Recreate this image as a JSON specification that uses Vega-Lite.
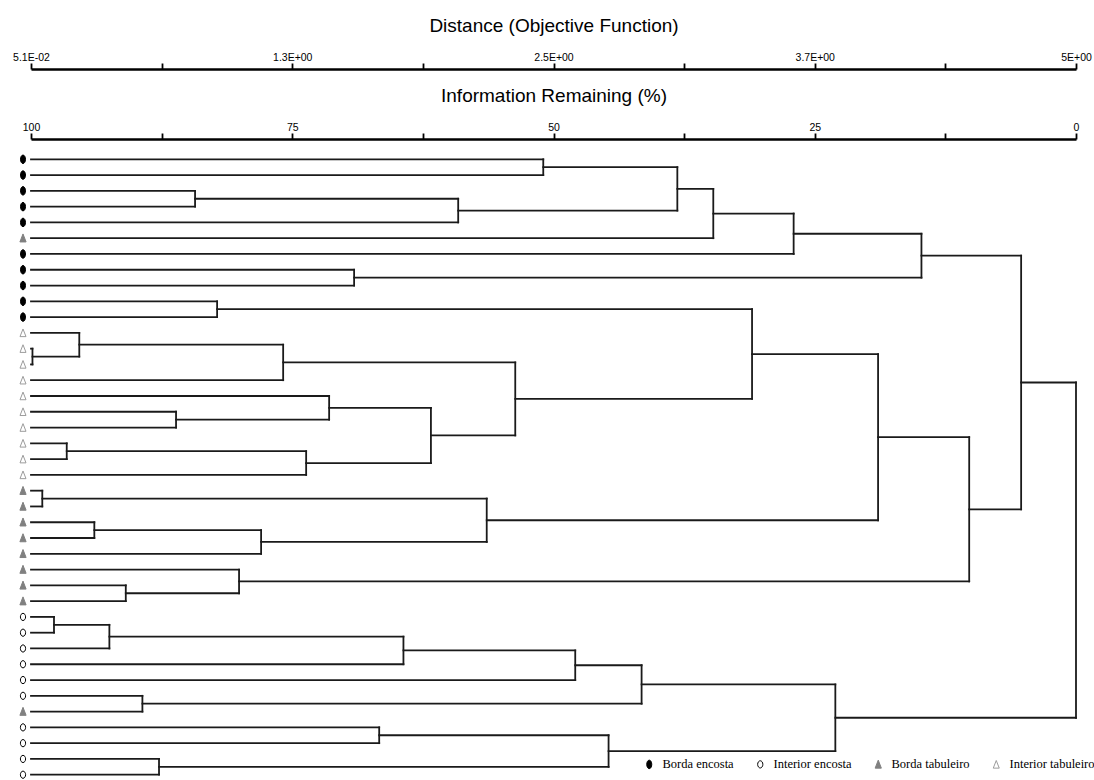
{
  "$schema": "https://vega.github.io/schema/vega-lite/v6.json",
  "width": 1045,
  "height": 641,
  "autosize": {"type": "none"},
  "padding": {"left": 31, "top": 139, "right": 18, "bottom": 0},
  "background": "white",
  "config": {
    "view": {"stroke": null},
    "axis": {
      "grid": false,
      "domainColor": "#000000",
      "domainWidth": 2.5,
      "tickColor": "#000000",
      "tickWidth": 1.8,
      "tickSize": 6,
      "labelPadding": 1,
      "labelFont": "Liberation Sans",
      "labelFontSize": 10.5,
      "labelColor": "#000000",
      "labelFlush": false,
      "labelOverlap": false,
      "labelBound": false,
      "titleFont": "Liberation Sans",
      "titleFontSize": 19,
      "titleFontWeight": "normal",
      "titleColor": "#000000",
      "titleBaseline": "alphabetic",
      "titleY": -38
    },
    "legend": {
      "orient": "none",
      "legendX": 612,
      "legendY": 619,
      "direction": "horizontal",
      "columns": 4,
      "title": null,
      "labelFont": "Liberation Serif",
      "labelFontSize": 12.5,
      "labelColor": "#000000",
      "labelOffset": 7,
      "columnPadding": 20,
      "symbolSize": 100,
      "symbolStrokeWidth": 1,
      "symbolOpacity": 1
    }
  },
  "datasets": {
    "nodes": [
      {"id": "L1", "y": 1, "h": 100, "ph": 50.98, "grp": "Borda encosta"},
      {"id": "L2", "y": 2, "h": 100, "ph": 50.98, "grp": "Borda encosta"},
      {"id": "L3", "y": 3, "h": 100, "ph": 84.3, "grp": "Borda encosta"},
      {"id": "L4", "y": 4, "h": 100, "ph": 84.3, "grp": "Borda encosta"},
      {"id": "L5", "y": 5, "h": 100, "ph": 59.12, "grp": "Borda encosta"},
      {"id": "L6", "y": 6, "h": 100, "ph": 34.71, "grp": "Borda tabuleiro"},
      {"id": "L7", "y": 7, "h": 100, "ph": 27.02, "grp": "Borda encosta"},
      {"id": "L8", "y": 8, "h": 100, "ph": 69.08, "grp": "Borda encosta"},
      {"id": "L9", "y": 9, "h": 100, "ph": 69.08, "grp": "Borda encosta"},
      {"id": "L10", "y": 10, "h": 100, "ph": 82.19, "grp": "Borda encosta"},
      {"id": "L11", "y": 11, "h": 100, "ph": 82.19, "grp": "Borda encosta"},
      {"id": "L12", "y": 12, "h": 100, "ph": 95.38, "grp": "Interior tabuleiro"},
      {"id": "L13", "y": 13, "h": 100, "ph": 99.86, "grp": "Interior tabuleiro"},
      {"id": "L14", "y": 14, "h": 100, "ph": 99.86, "grp": "Interior tabuleiro"},
      {"id": "L15", "y": 15, "h": 100, "ph": 75.87, "grp": "Interior tabuleiro"},
      {"id": "L16", "y": 16, "h": 100, "ph": 71.47, "grp": "Interior tabuleiro"},
      {"id": "L17", "y": 17, "h": 100, "ph": 86.12, "grp": "Interior tabuleiro"},
      {"id": "L18", "y": 18, "h": 100, "ph": 86.12, "grp": "Interior tabuleiro"},
      {"id": "L19", "y": 19, "h": 100, "ph": 96.58, "grp": "Interior tabuleiro"},
      {"id": "L20", "y": 20, "h": 100, "ph": 96.58, "grp": "Interior tabuleiro"},
      {"id": "L21", "y": 21, "h": 100, "ph": 73.67, "grp": "Interior tabuleiro"},
      {"id": "L22", "y": 22, "h": 100, "ph": 98.92, "grp": "Borda tabuleiro"},
      {"id": "L23", "y": 23, "h": 100, "ph": 98.92, "grp": "Borda tabuleiro"},
      {"id": "L24", "y": 24, "h": 100, "ph": 93.94, "grp": "Borda tabuleiro"},
      {"id": "L25", "y": 25, "h": 100, "ph": 93.94, "grp": "Borda tabuleiro"},
      {"id": "L26", "y": 26, "h": 100, "ph": 77.98, "grp": "Borda tabuleiro"},
      {"id": "L27", "y": 27, "h": 100, "ph": 80.09, "grp": "Borda tabuleiro"},
      {"id": "L28", "y": 28, "h": 100, "ph": 90.93, "grp": "Borda tabuleiro"},
      {"id": "L29", "y": 29, "h": 100, "ph": 90.93, "grp": "Borda tabuleiro"},
      {"id": "L30", "y": 30, "h": 100, "ph": 97.8, "grp": "Interior encosta"},
      {"id": "L31", "y": 31, "h": 100, "ph": 97.8, "grp": "Interior encosta"},
      {"id": "L32", "y": 32, "h": 100, "ph": 92.5, "grp": "Interior encosta"},
      {"id": "L33", "y": 33, "h": 100, "ph": 64.36, "grp": "Interior encosta"},
      {"id": "L34", "y": 34, "h": 100, "ph": 47.92, "grp": "Interior encosta"},
      {"id": "L35", "y": 35, "h": 100, "ph": 89.34, "grp": "Interior encosta"},
      {"id": "L36", "y": 36, "h": 100, "ph": 89.34, "grp": "Borda tabuleiro"},
      {"id": "L37", "y": 37, "h": 100, "ph": 66.68, "grp": "Interior encosta"},
      {"id": "L38", "y": 38, "h": 100, "ph": 66.68, "grp": "Interior encosta"},
      {"id": "L39", "y": 39, "h": 100, "ph": 87.75, "grp": "Interior encosta"},
      {"id": "L40", "y": 40, "h": 100, "ph": 87.75, "grp": "Interior encosta"},
      {"id": "A", "y": 1.5, "h": 50.98, "ph": 38.15, "ylo": 1, "yhi": 2},
      {"id": "B", "y": 3.5, "h": 84.3, "ph": 59.12, "ylo": 3, "yhi": 4},
      {"id": "C", "y": 4.25, "h": 59.12, "ph": 38.15, "ylo": 3.5, "yhi": 5},
      {"id": "D", "y": 2.875, "h": 38.15, "ph": 34.71, "ylo": 1.5, "yhi": 4.25},
      {"id": "E", "y": 4.4375, "h": 34.71, "ph": 27.02, "ylo": 2.875, "yhi": 6},
      {"id": "F", "y": 5.71875, "h": 27.02, "ph": 14.79, "ylo": 4.4375, "yhi": 7},
      {"id": "G", "y": 8.5, "h": 69.08, "ph": 14.79, "ylo": 8, "yhi": 9},
      {"id": "H", "y": 7.109375, "h": 14.79, "ph": 5.25, "ylo": 5.71875, "yhi": 8.5},
      {"id": "I", "y": 10.5, "h": 82.19, "ph": 31.0, "ylo": 10, "yhi": 11},
      {"id": "J", "y": 13.5, "h": 99.86, "ph": 95.38, "ylo": 13, "yhi": 14},
      {"id": "K", "y": 12.75, "h": 95.38, "ph": 75.87, "ylo": 12, "yhi": 13.5},
      {"id": "M", "y": 13.875, "h": 75.87, "ph": 53.66, "ylo": 12.75, "yhi": 15},
      {"id": "N", "y": 17.5, "h": 86.12, "ph": 71.47, "ylo": 17, "yhi": 18},
      {"id": "O", "y": 16.75, "h": 71.47, "ph": 61.73, "ylo": 16, "yhi": 17.5},
      {"id": "P", "y": 19.5, "h": 96.58, "ph": 73.67, "ylo": 19, "yhi": 20},
      {"id": "Q", "y": 20.25, "h": 73.67, "ph": 61.73, "ylo": 19.5, "yhi": 21},
      {"id": "R", "y": 18.5, "h": 61.73, "ph": 53.66, "ylo": 16.75, "yhi": 20.25},
      {"id": "S", "y": 16.1875, "h": 53.66, "ph": 31.0, "ylo": 13.875, "yhi": 18.5},
      {"id": "T", "y": 13.34375, "h": 31.0, "ph": 18.94, "ylo": 10.5, "yhi": 16.1875},
      {"id": "U1", "y": 22.5, "h": 98.92, "ph": 56.39, "ylo": 22, "yhi": 23},
      {"id": "U2", "y": 24.5, "h": 93.94, "ph": 77.98, "ylo": 24, "yhi": 25},
      {"id": "U3", "y": 25.25, "h": 77.98, "ph": 56.39, "ylo": 24.5, "yhi": 26},
      {"id": "U4", "y": 23.875, "h": 56.39, "ph": 18.94, "ylo": 22.5, "yhi": 25.25},
      {"id": "V", "y": 18.609375, "h": 18.94, "ph": 10.22, "ylo": 13.34375, "yhi": 23.875},
      {"id": "W1", "y": 28.5, "h": 90.93, "ph": 80.09, "ylo": 28, "yhi": 29},
      {"id": "W2", "y": 27.75, "h": 80.09, "ph": 10.22, "ylo": 27, "yhi": 28.5},
      {"id": "X", "y": 23.1796875, "h": 10.22, "ph": 5.25, "ylo": 18.609375, "yhi": 27.75},
      {"id": "Y", "y": 15.14453125, "h": 5.25, "ph": 0, "ylo": 7.109375, "yhi": 23.1796875},
      {"id": "Z1", "y": 30.5, "h": 97.8, "ph": 92.5, "ylo": 30, "yhi": 31},
      {"id": "Z2", "y": 31.25, "h": 92.5, "ph": 64.36, "ylo": 30.5, "yhi": 32},
      {"id": "Z3", "y": 32.125, "h": 64.36, "ph": 47.92, "ylo": 31.25, "yhi": 33},
      {"id": "Z4", "y": 33.0625, "h": 47.92, "ph": 41.57, "ylo": 32.125, "yhi": 34},
      {"id": "Z5", "y": 35.5, "h": 89.34, "ph": 41.57, "ylo": 35, "yhi": 36},
      {"id": "Z6", "y": 34.28125, "h": 41.57, "ph": 23.03, "ylo": 33.0625, "yhi": 35.5},
      {"id": "Z7", "y": 37.5, "h": 66.68, "ph": 44.73, "ylo": 37, "yhi": 38},
      {"id": "Z8", "y": 39.5, "h": 87.75, "ph": 44.73, "ylo": 39, "yhi": 40},
      {"id": "Z9", "y": 38.5, "h": 44.73, "ph": 23.03, "ylo": 37.5, "yhi": 39.5},
      {"id": "Z10", "y": 36.390625, "h": 23.03, "ph": 0, "ylo": 34.28125, "yhi": 38.5},
      {"id": "ROOT", "y": 25.767578, "h": 0, "ylo": 15.14453125, "yhi": 36.390625}
    ]
  },
  "layer": [
    {
      "data": {"values": [{"dist": 0.051}, {"dist": 5}]},
      "mark": {"type": "point", "opacity": 0},
      "encoding": {
        "x": {
          "field": "dist",
          "type": "quantitative",
          "scale": {"domain": [0.051, 5], "nice": false, "zero": false},
          "axis": {
            "orient": "top",
            "offset": 70,
            "title": "Distance (Objective Function)",
            "values": [0.051, 0.669625, 1.28825, 1.906875, 2.5255, 3.144125, 3.76275, 4.381375, 5],
            "labelExpr": "datum.value < 0.1 ? '5.1E-02' : abs(datum.value - 1.28825) < 0.01 ? '1.3E+00' : abs(datum.value - 2.5255) < 0.01 ? '2.5E+00' : abs(datum.value - 3.76275) < 0.01 ? '3.7E+00' : datum.value > 4.9 ? '5E+00' : ''"
          }
        }
      }
    },
    {
      "data": {"name": "nodes"},
      "encoding": {
        "x": {
          "field": "h",
          "type": "quantitative",
          "scale": {"domain": [100, 0], "nice": false, "zero": false},
          "axis": {
            "orient": "top",
            "offset": 0,
            "title": "Information Remaining (%)",
            "values": [100, 87.5, 75, 62.5, 50, 37.5, 25, 12.5, 0],
            "labelExpr": "datum.value % 25 === 0 ? format(datum.value, 'd') : ''"
          }
        }
      },
      "layer": [
        {
          "transform": [{"filter": "datum.ph != null"}],
          "mark": {"type": "rule", "color": "#1a1a1a", "strokeWidth": 1.8, "strokeCap": "square"},
          "encoding": {
            "x2": {"field": "ph"},
            "y": {"field": "y", "type": "quantitative", "scale": {"domain": [-0.286, 40.335], "reverse": true, "nice": false, "zero": false}, "axis": null}
          }
        },
        {
          "transform": [{"filter": "datum.ylo != null"}],
          "mark": {"type": "rule", "color": "#1a1a1a", "strokeWidth": 1.8, "strokeCap": "square"},
          "encoding": {
            "y": {"field": "ylo", "type": "quantitative", "scale": {"domain": [-0.286, 40.335], "reverse": true, "nice": false, "zero": false}, "axis": null},
            "y2": {"field": "yhi"}
          }
        },
        {
          "transform": [{"filter": "datum.grp != null"}],
          "mark": {"type": "point", "size": 100, "strokeWidth": 1, "opacity": 1, "xOffset": -8},
          "encoding": {
            "y": {"field": "y", "type": "quantitative", "scale": {"domain": [-0.286, 40.335], "reverse": true, "nice": false, "zero": false}, "axis": null},
            "shape": {
              "field": "grp",
              "type": "nominal",
              "scale": {
                "domain": ["Borda encosta", "Interior encosta", "Borda tabuleiro", "Interior tabuleiro"],
                "range": [
                  "M0,-0.85A0.5,0.85 0 1,1 0,0.85A0.5,0.85 0 1,1 0,-0.85Z",
                  "M0,-0.72A0.52,0.72 0 1,1 0,0.72A0.52,0.72 0 1,1 0,-0.72Z",
                  "M0,-0.85L0.62,0.75L-0.62,0.75Z",
                  "M0,-0.78L0.6,0.75L-0.6,0.75Z"
                ]
              }
            },
            "fill": {
              "field": "grp",
              "type": "nominal",
              "scale": {
                "domain": ["Borda encosta", "Interior encosta", "Borda tabuleiro", "Interior tabuleiro"],
                "range": ["#000000", "#ffffff", "#808080", "#ffffff"]
              }
            },
            "stroke": {
              "field": "grp",
              "type": "nominal",
              "scale": {
                "domain": ["Borda encosta", "Interior encosta", "Borda tabuleiro", "Interior tabuleiro"],
                "range": ["#000000", "#000000", "#808080", "#9c9c9c"]
              }
            }
          }
        }
      ]
    }
  ],
  "resolve": {"scale": {"x": "independent"}, "axis": {"x": "independent"}}
}
